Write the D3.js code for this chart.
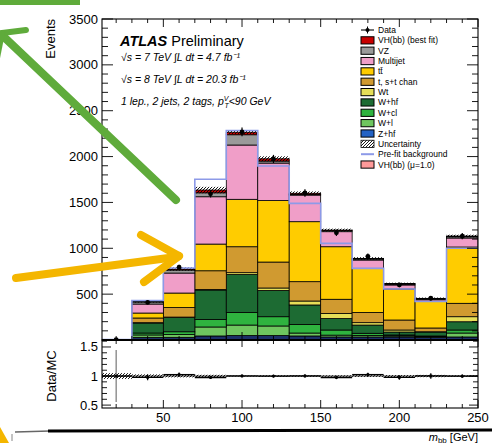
<!DOCTYPE html>
<html><head><meta charset="utf-8">
<script src="https://cdn.jsdelivr.net/npm/d3@7"></script>
<style>
body{margin:0;background:#fff}
svg{display:block;font-family:"Liberation Sans",Arial,Helvetica,sans-serif}
</style>
</head><body>
<svg id="c" width="492" height="443"></svg>
<script>
// m_bb distribution, 1 lepton, 2 jets, 2 tags, pT^V < 90 GeV (20 GeV bins)
const binLow = [10, 30, 50, 70, 90, 110, 130, 150, 170, 190, 210, 230];
const binWidth = 20;

// background and signal yields per bin (events), stacked bottom to top
const zhf   = [1, 29, 29, 44, 49, 49, 44, 33, 33, 33, 27, 33];
const wl    = [1, 26, 31, 98, 114, 104, 32, 20, 17, 12, 8, 43];
const wcl   = [0, 21, 30, 81, 137, 101, 94, 56, 23, 10, 9, 33];
const whf   = [1, 109, 155, 322, 414, 286, 212, 125, 90, 32, 43, 90];
const wt    = [0, 4, 5, 5, 20, 27, 43, 55, 26, 22, 3, 55];
const stop  = [0, 51, 104, 205, 283, 283, 211, 155, 111, 109, 41, 146];
const ttbar = [1, 54, 158, 291, 517, 670, 654, 573, 481, 338, 294, 614];
const multijet = [1, 98, 218, 516, 592, 409, 290, 164, 91, 44, 16, 98];
const vz    = [0, 22, 33, 43, 112, 22, 8, 13, 12, 10, 7, 14];
const vh    = [0, 6, 11, 30, 27, 25, 12, 5, 6, 5, 6, 8];

const dataCounts = [5, 410, 793, 1594, 2268, 1974, 1603, 1169, 912, 600, 455, 1132];
const prefit     = [5, 430, 785, 1752, 2285, 1897, 1490, 1054, 781, 556, 420, 1000];
const uncHalf    = [0.25, 12, 18, 35, 18, 27, 20, 15, 13, 10, 9, 14];

const yTickLabels = ["500", "1000", "1500", "2000", "2500", "3000", "3500"];
const rTickLabels = ["0.5", "1", "1.5"];
const xTickLabels = ["50", "100", "150", "200", "250"];

const layers = [
  {key: "zhf",  vals: zhf,  color: "#1c2f66"},
  {key: "wl",   vals: wl,   color: "#6fc65f"},
  {key: "wcl",  vals: wcl,  color: "#2fb33f"},
  {key: "whf",  vals: whf,  color: "#1d6b33"},
  {key: "wt",   vals: wt,   color: "#e6de58"},
  {key: "stop", vals: stop, color: "#d09a30"},
  {key: "tt",   vals: ttbar, color: "#ffcc00"},
  {key: "mj",   vals: multijet, color: "#f09ec8"},
  {key: "vz",   vals: vz,   color: "#9a9a9a"},
  {key: "vh",   vals: vh,   color: "#c80000"}
];

const legendEntries = [
  {label: "Data", type: "data"},
  {label: "VH(bb) (best fit)", type: "box", color: "#c80000"},
  {label: "VZ", type: "box", color: "#9a9a9a"},
  {label: "Multijet", type: "box", color: "#f09ec8"},
  {label: "tt\u0304", type: "box", color: "#ffcc00"},
  {label: "t, s+t chan", type: "box", color: "#d09a30"},
  {label: "Wt", type: "box", color: "#e6de58"},
  {label: "W+hf", type: "box", color: "#1d6b33"},
  {label: "W+cl", type: "box", color: "#2fb33f"},
  {label: "W+l", type: "box", color: "#6fc65f"},
  {label: "Z+hf", type: "box", color: "#2462c4"},
  {label: "Uncertainty", type: "hatch"},
  {label: "Pre-fit background", type: "line", color: "#8d9ae8"},
  {label: "VH(bb) (\u03bc=1.0)", type: "box", color: "#ff9a9a"}
];

const svg = d3.select("#c");
const X0 = 102, X1 = 478, Y0 = 19, Y1 = 340, R0 = 340, R1 = 408;
const x = d3.scaleLinear().domain([11, 250]).range([X0, X1]);
const y = d3.scaleLinear().domain([0, 3500]).range([Y1, Y0]);
const yr = d3.scaleLinear().domain([0.45, 1.62]).range([R1, R0]);

const defs = svg.append("defs");
defs.append("clipPath").attr("id", "clipMain").append("rect")
  .attr("x", X0).attr("y", Y0).attr("width", X1 - X0).attr("height", Y1 - Y0);
defs.append("clipPath").attr("id", "clipRatio").append("rect")
  .attr("x", X0).attr("y", R0).attr("width", X1 - X0).attr("height", R1 - R0);
const hatch = defs.append("pattern").attr("id", "hatch")
  .attr("patternUnits", "userSpaceOnUse").attr("width", 3).attr("height", 3);
hatch.append("path").attr("d", "M-1,1 l2,-2 M0,3 l3,-3 M2,4 l2,-2")
  .attr("stroke", "#000").attr("stroke-width", 0.9);

// stacked histogram
const rows = binLow.map((lo, i) => {
  const r = {lo};
  layers.forEach(l => r[l.key] = l.vals[i]);
  return r;
});
const stacked = d3.stack().keys(layers.map(l => l.key))(rows);
const totals = rows.map(r => d3.sum(layers, l => r[l.key]));

const gMain = svg.append("g").attr("clip-path", "url(#clipMain)");
stacked.forEach((s, k) => {
  gMain.append("g").selectAll("rect").data(s).join("rect")
    .attr("x", d => x(d.data.lo))
    .attr("width", x(binLow[0] + binWidth) - x(binLow[0]))
    .attr("y", d => y(d[1]))
    .attr("height", d => y(d[0]) - y(d[1]))
    .attr("fill", layers[k].color)
    .attr("stroke", "#000").attr("stroke-width", 0.8);
});

// uncertainty band
gMain.append("g").selectAll("rect").data(binLow).join("rect")
  .attr("x", (lo) => x(lo))
  .attr("width", x(binLow[0] + binWidth) - x(binLow[0]))
  .attr("y", (lo, i) => y(totals[i] + uncHalf[i]))
  .attr("height", (lo, i) => y(totals[i] - uncHalf[i]) - y(totals[i] + uncHalf[i]))
  .attr("fill", "url(#hatch)");

// pre-fit background outline
const stepPts = binLow.map((lo, i) => [lo, prefit[i]]);
stepPts.unshift([binLow[0], 0]);
stepPts.push([binLow[binLow.length - 1] + binWidth, prefit[prefit.length - 1]]);
gMain.append("path")
  .attr("d", d3.line().x(d => x(d[0])).y(d => y(d[1])).curve(d3.curveStepAfter)(stepPts))
  .attr("fill", "none").attr("stroke", "#8d9ae8").attr("stroke-width", 1.6);

// data points
const gData = gMain.append("g");
binLow.forEach((lo, i) => {
  const cx = x(lo + binWidth / 2), v = dataCounts[i], e = Math.sqrt(v);
  gData.append("line").attr("x1", cx).attr("x2", cx)
    .attr("y1", y(v - e)).attr("y2", y(v + e)).attr("stroke", "#000").attr("stroke-width", 1.2);
  gData.append("circle").attr("cx", cx).attr("cy", y(v)).attr("r", 2.4).attr("fill", "#000");
});

// ratio panel
const gRatio = svg.append("g").attr("clip-path", "url(#clipRatio)");
gRatio.append("line").attr("x1", X0).attr("x2", X1)
  .attr("y1", yr(1)).attr("y2", yr(1)).attr("stroke", "#000").attr("stroke-width", 0.8);
gRatio.append("g").selectAll("rect").data(binLow).join("rect")
  .attr("x", lo => x(lo))
  .attr("width", x(binLow[0] + binWidth) - x(binLow[0]))
  .attr("y", (lo, i) => yr(1 + uncHalf[i] / totals[i]))
  .attr("height", (lo, i) => yr(1 - uncHalf[i] / totals[i]) - yr(1 + uncHalf[i] / totals[i]))
  .attr("fill", "url(#hatch)");
binLow.forEach((lo, i) => {
  const cx = x(lo + binWidth / 2), r = dataCounts[i] / totals[i];
  const e = Math.sqrt(dataCounts[i]) / totals[i];
  gRatio.append("line").attr("x1", x(lo)).attr("x2", x(lo + binWidth))
    .attr("y1", yr(r)).attr("y2", yr(r)).attr("stroke", "#000").attr("stroke-width", 1.3);
  gRatio.append("line").attr("x1", cx).attr("x2", cx)
    .attr("y1", yr(r - e)).attr("y2", yr(r + e))
    .attr("stroke", i === 0 ? "#777" : "#000").attr("stroke-width", 1.2);
  gRatio.append("circle").attr("cx", cx).attr("cy", yr(r)).attr("r", 1.6).attr("fill", "#000");
});

// frames
const frame = svg.append("g").attr("fill", "none").attr("stroke", "#000");
frame.append("rect").attr("x", X0).attr("y", Y0).attr("width", X1 - X0).attr("height", Y1 - Y0).attr("stroke-width", 1.1);
frame.append("rect").attr("x", X0).attr("y", R0).attr("width", X1 - X0).attr("height", R1 - R0).attr("stroke-width", 1.1);
frame.append("line").attr("x1", X0).attr("x2", X1).attr("y1", Y1).attr("y2", Y1).attr("stroke-width", 2);

// ticks
const ticks = svg.append("g").attr("stroke", "#000").attr("stroke-width", 0.9);
function vTicks(scale, lo, hi, step, majorEvery, majLen, minLen) {
  const n = Math.round((hi - lo) / step);
  for (let k = 0; k <= n; k++) {
    const v = lo + k * step;
    const major = Math.abs((v / majorEvery) - Math.round(v / majorEvery)) < 1e-6;
    const len = major ? majLen : minLen, py = scale(v);
    ticks.append("line").attr("x1", X0).attr("x2", X0 + len).attr("y1", py).attr("y2", py);
    ticks.append("line").attr("x1", X1).attr("x2", X1 - len).attr("y1", py).attr("y2", py);
  }
}
vTicks(y, 0, 3500, 100, 500, 11, 6);
vTicks(yr, 0.5, 1.6, 0.1, 0.5, 9, 5);
function hTicks(yEdge, dir, majLen, minLen) {
  for (let v = 20; v <= 250; v += 10) {
    const major = v % 50 === 0;
    const len = major ? majLen : minLen, px = x(v);
    ticks.append("line").attr("x1", px).attr("x2", px).attr("y1", yEdge).attr("y2", yEdge + dir * len);
  }
}
hTicks(Y0, 1, 8, 4);
hTicks(Y1, -1, 8, 4);
hTicks(R0, 1, 7, 4);
hTicks(R1, -1, 8, 4);

// tick labels
const lab = svg.append("g").attr("font-size", 13).attr("fill", "#000");
yTickLabels.forEach(t => lab.append("text").attr("x", 98).attr("y", y(+t))
  .attr("text-anchor", "end").attr("dominant-baseline", "central").text(t));
rTickLabels.forEach(t => lab.append("text").attr("x", 98).attr("y", yr(+t))
  .attr("text-anchor", "end").attr("dominant-baseline", "central").text(t));
xTickLabels.forEach(t => lab.append("text").attr("x", x(+t)).attr("y", 422)
  .attr("text-anchor", "middle").text(t));

// axis titles
svg.append("text").attr("transform", "translate(55,19) rotate(-90)")
  .attr("text-anchor", "end").attr("font-size", 13).text("Events");
svg.append("text").attr("transform", `translate(56,${yr(1)}) rotate(-90)`)
  .attr("text-anchor", "middle").attr("font-size", 13).text("Data/MC");
const xt = svg.append("text").attr("x", 478).attr("y", 441).attr("text-anchor", "end").attr("font-size", 11);
xt.append("tspan").attr("font-style", "italic").text("m");
xt.append("tspan").attr("font-size", 8).attr("dy", 1.5).text("bb");
xt.append("tspan").attr("dy", -1.5).text(" [GeV]");

// labels inside the plot
const atl = svg.append("text").attr("x", 120).attr("y", 46).attr("font-size", 14.5);
atl.append("tspan").attr("font-weight", "bold").attr("font-style", "italic").text("ATLAS");
atl.append("tspan").text(" Preliminary");
const info = svg.append("g").attr("font-size", 10.5).attr("font-style", "italic");
info.append("text").attr("x", 121).attr("y", 61).text("\u221as = 7 TeV \u222bL dt = 4.7 fb\u207b\u00b9");
info.append("text").attr("x", 121).attr("y", 83).text("\u221as = 8 TeV \u222bL dt = 20.3 fb\u207b\u00b9");
const l4 = info.append("text").attr("x", 121).attr("y", 105);
l4.append("tspan").text("1 lep., 2 jets, 2 tags, p");
l4.append("tspan").attr("font-size", 7).attr("dy", -4).text("V");
l4.append("tspan").attr("font-size", 7).attr("dx", -4).attr("dy", 7).text("T");
l4.append("tspan").attr("dy", -3).text("<90 GeV");

// legend
const leg = svg.append("g").attr("font-size", 8.5);
legendEntries.forEach((e, i) => {
  const cy = 30 + i * 10.35;
  if (e.type === "data") {
    leg.append("line").attr("x1", 361).attr("x2", 374).attr("y1", cy).attr("y2", cy).attr("stroke", "#000").attr("stroke-width", 1.1);
    leg.append("line").attr("x1", 367.5).attr("x2", 367.5).attr("y1", cy - 3.5).attr("y2", cy + 3.5).attr("stroke", "#000").attr("stroke-width", 1);
    leg.append("circle").attr("cx", 367.5).attr("cy", cy).attr("r", 2).attr("fill", "#000");
  } else if (e.type === "box") {
    leg.append("rect").attr("x", 361).attr("y", cy - 3.6).attr("width", 13).attr("height", 7.2)
      .attr("fill", e.color).attr("stroke", "#000").attr("stroke-width", 1);
  } else if (e.type === "hatch") {
    leg.append("rect").attr("x", 361).attr("y", cy - 3.6).attr("width", 13).attr("height", 7.2)
      .attr("fill", "url(#hatch)").attr("stroke", "#000").attr("stroke-width", 0.8);
  } else if (e.type === "line") {
    leg.append("line").attr("x1", 361).attr("x2", 374).attr("y1", cy).attr("y2", cy)
      .attr("stroke", e.color).attr("stroke-width", 2);
  }
  leg.append("text").attr("x", 378).attr("y", cy).attr("dominant-baseline", "central").text(e.label);
});

// hand-drawn highlight arrows
const green = "#5fab3b", gold = "#f4b600";
svg.append("rect").attr("x", 0).attr("y", 0).attr("width", 80).attr("height", 5).attr("fill", green);
const ga = svg.append("g").attr("stroke", green).attr("stroke-linecap", "round").attr("fill", "none");
ga.append("line").attr("x1", 4).attr("y1", 37).attr("x2", 176).attr("y2", 200).attr("stroke-width", 8);
ga.append("line").attr("x1", 2).attr("y1", 33).attr("x2", 26).attr("y2", 30).attr("stroke-width", 6);
ga.append("line").attr("x1", 2).attr("y1", 33).attr("x2", -3).attr("y2", 58).attr("stroke-width", 6);
const ya = svg.append("g").attr("stroke", gold).attr("stroke-linecap", "round").attr("fill", "none");
ya.append("line").attr("x1", 16).attr("y1", 278).attr("x2", 176).attr("y2", 257).attr("stroke-width", 8);
ya.append("line").attr("x1", 179).attr("y1", 256).attr("x2", 141).attr("y2", 235).attr("stroke-width", 8);
ya.append("line").attr("x1", 179).attr("y1", 256).attr("x2", 144).attr("y2", 282).attr("stroke-width", 8);
svg.append("path").attr("d", "M0,427 L9,443 L0,443 Z").attr("fill", gold);

// page rule below the figure
svg.append("line").attr("x1", 15).attr("x2", 50).attr("y1", 432).attr("y2", 431).attr("stroke", "#666").attr("stroke-width", 1.5);
svg.append("line").attr("x1", 48).attr("x2", 492).attr("y1", 431).attr("y2", 430).attr("stroke", "#000").attr("stroke-width", 3);
svg.append("line").attr("x1", 12).attr("x2", 12).attr("y1", 434).attr("y2", 441).attr("stroke", "#888").attr("stroke-width", 1);
</script>
</body></html>
